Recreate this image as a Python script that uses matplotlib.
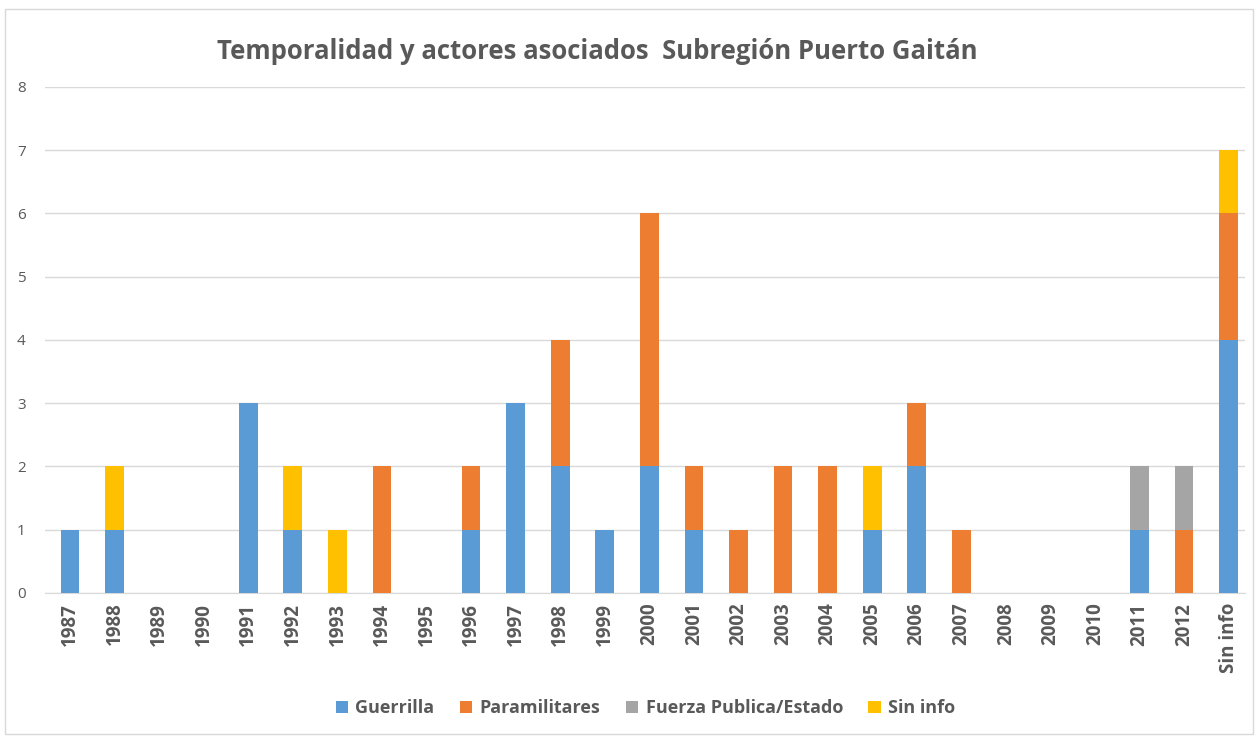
import numpy as np
import matplotlib.pyplot as plt

plt.rcParams['font.family'] = ['Open Sans', 'DejaVu Sans']

# categories and series values
years = ['1987', '1988', '1989', '1990', '1991', '1992', '1993', '1994', '1995',
         '1996', '1997', '1998', '1999', '2000', '2001', '2002', '2003', '2004',
         '2005', '2006', '2007', '2008', '2009', '2010', '2011', '2012', 'Sin info']
guerrilla = [1, 1, 0, 0, 3, 1, 0, 0, 0, 1, 3, 2, 1, 2, 1, 0, 0, 0, 1, 2, 0, 0, 0, 0, 1, 0, 4]
paramilitares = [0, 0, 0, 0, 0, 0, 0, 2, 0, 1, 0, 2, 0, 4, 1, 1, 2, 2, 0, 1, 1, 0, 0, 0, 0, 1, 2]
fuerza = [0, 0, 0, 0, 0, 0, 0, 0, 0, 0, 0, 0, 0, 0, 0, 0, 0, 0, 0, 0, 0, 0, 0, 0, 1, 1, 0]
sin_info = [0, 1, 0, 0, 0, 1, 1, 0, 0, 0, 0, 0, 0, 0, 0, 0, 0, 0, 1, 0, 0, 0, 0, 0, 0, 0, 1]

series = [('Guerrilla', guerrilla, '#5B9BD5'),
          ('Paramilitares', paramilitares, '#ED7D31'),
          ('Fuerza Publica/Estado', fuerza, '#A5A5A5'),
          ('Sin info', sin_info, '#FFC000')]

fig = plt.figure(figsize=(12.58, 7.37), dpi=100)
ax = fig.add_axes([0.0358, 0.1954, 0.954, 0.6866])

x = np.arange(len(years))
bottom = np.zeros(len(years))
for name, vals, col in series:
    vals = np.array(vals, dtype=float)
    ax.bar(x, vals, width=0.42, bottom=bottom, color=col, label=name, zorder=3)
    bottom += vals

ax.set_xlim(-0.56, len(years) - 0.63)
ax.set_ylim(0, 8)
ax.set_yticks(range(0, 9))
ax.yaxis.grid(True, color='#D9D9D9', linewidth=1, zorder=0)
for s in ['top', 'right', 'left']:
    ax.spines[s].set_visible(False)
ax.spines['bottom'].set_color('#D9D9D9')
ax.tick_params(axis='y', length=0, labelsize=11, labelcolor='#595959', pad=14)
ax.tick_params(axis='x', length=0, pad=7)
ax.set_xticks(x)
ax.set_xticklabels(years, rotation=90, fontsize=13.5, fontweight='bold', color='#595959')

fig.text(0.475, 0.93, 'Temporalidad y actores asociados  Subregión Puerto Gaitán',
         ha='center', va='center', fontsize=18.5, fontweight='bold', color='#595959')

fig.legend(loc='center', bbox_to_anchor=(0.513, 0.039), ncol=4, frameon=False,
           handlelength=0.7, handleheight=0.7, handletextpad=0.4, columnspacing=1.4,
           prop={'size': 13, 'weight': 'bold'}, labelcolor='#595959')

# light frame round the chart
fig.patches.append(plt.Rectangle((0.004, 0.004), 0.992, 0.984, transform=fig.transFigure,
                                 fill=False, edgecolor='#D9D9D9', linewidth=1))

plt.savefig('out.png', dpi=100)
